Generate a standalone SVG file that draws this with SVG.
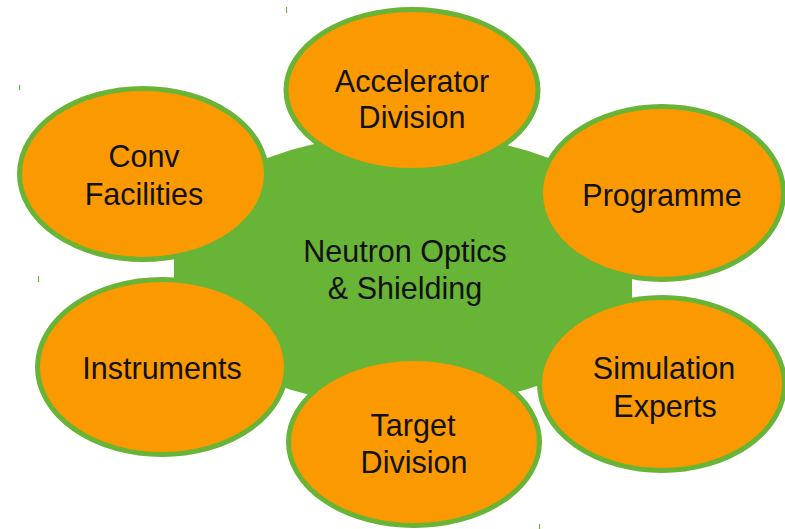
<svg xmlns="http://www.w3.org/2000/svg" width="785" height="529" viewBox="0 0 785 529">
<style>
.node{fill:#FA9A00;stroke:#68B436;stroke-width:5}
.lbl{font-family:"Liberation Sans",Arial,sans-serif;font-size:30.5px;fill:#111111;text-anchor:middle}
.tick{stroke:#68B436;stroke-width:1.2}
</style>
<defs>
<clipPath id="cclip"><rect x="174" y="0" width="458" height="529"/></clipPath>
</defs>
<rect width="785" height="529" fill="#ffffff"/>
<g id="center">
<ellipse cx="408" cy="270" rx="248" ry="136" fill="#68B436" clip-path="url(#cclip)"/>
<text class="lbl" x="405" y="262">Neutron Optics</text>
<text class="lbl" x="405" y="299">&amp; Shielding</text>
</g>
<g id="connectors"></g>
<g id="conv">
<ellipse class="node" cx="143" cy="174" rx="123.5" ry="85.5"/>
<text class="lbl" x="144" y="167">Conv</text>
<text class="lbl" x="144" y="205">Facilities</text>
</g>
<g id="accelerator">
<ellipse class="node" cx="412" cy="90" rx="126" ry="80.5"/>
<text class="lbl" x="412" y="92">Accelerator</text>
<text class="lbl" x="412" y="128">Division</text>
</g>
<g id="programme">
<ellipse class="node" cx="662" cy="193" rx="121.5" ry="86.5"/>
<text class="lbl" x="662" y="206">Programme</text>
</g>
<g id="simulation">
<ellipse class="node" cx="662" cy="384" rx="122.5" ry="86.5"/>
<text class="lbl" x="664" y="379">Simulation</text>
<text class="lbl" x="665" y="417">Experts</text>
</g>
<g id="target">
<ellipse class="node" cx="414" cy="442" rx="125.5" ry="83.5"/>
<text class="lbl" x="413" y="436">Target</text>
<text class="lbl" x="414" y="473">Division</text>
</g>
<g id="instruments">
<ellipse class="node" cx="162" cy="367" rx="124.5" ry="87.5"/>
<text class="lbl" x="162" y="379">Instruments</text>
</g>
<line class="tick" x1="286.5" y1="7" x2="286.5" y2="13"/>
<line class="tick" x1="19.5" y1="85" x2="19.5" y2="90"/>
<line class="tick" x1="38.5" y1="276" x2="38.5" y2="282"/>
<line class="tick" x1="539.5" y1="524" x2="539.5" y2="529"/>
</svg>
